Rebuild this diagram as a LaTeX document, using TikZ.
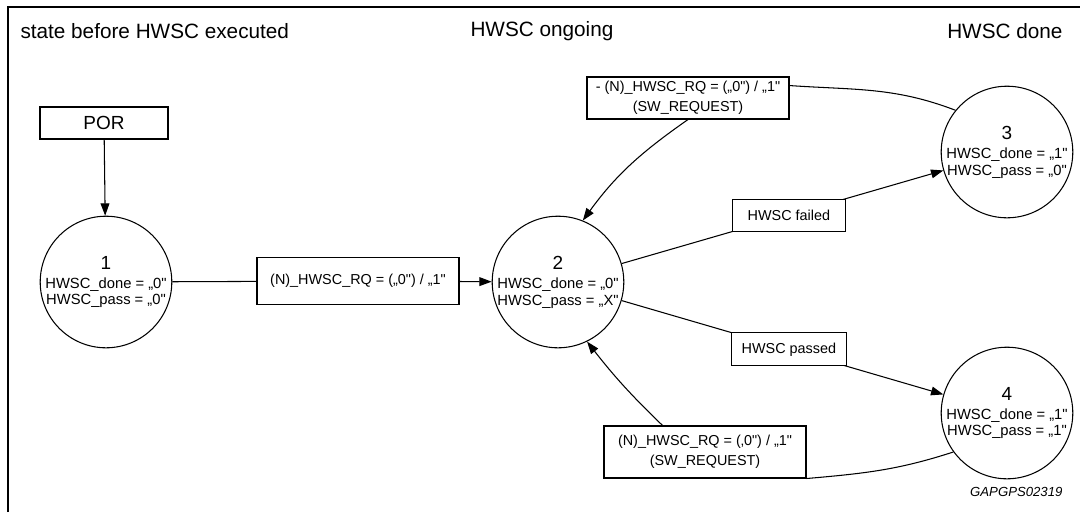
\documentclass[tikz,border=0pt]{standalone}
\usepackage{fontspec}
\setmainfont{Liberation Sans}
\usetikzlibrary{arrows.meta}
\newcommand{\closeq}{\textquotedbl}
\tikzset{
  state/.style={circle, draw, line width=0.6pt, minimum size=2.56cm, inner sep=0pt,
    align=center, font=\fontsize{8.4}{9.6}\selectfont},
  condbox/.style={draw, fill=white, line width=0.6pt, inner sep=1pt, align=center,
    font=\fontsize{8.2}{11.3}\selectfont},
  header/.style={font=\fontsize{11.8}{13}\selectfont, inner sep=0pt},
}
\begin{document}
\begin{tikzpicture}[x=0.02cm, y=0.02cm, line width=0.6pt, >={Triangle[length=7pt,width=5pt]}]
    \useasboundingbox (0,0) rectangle (1080,-512);
    \draw[line width=1.4pt] (8,-512) -- (8,-7) -- (1080,-7);
    % column headers
    \node[header, anchor=west] (hbefore) at (20,-31) {state before HWSC executed};
    \node[header, anchor=west] (hongoing) at (470,-31) {HWSC ongoing};
    \node[header, anchor=east] (hdone) at (1063,-31) {HWSC done};
    % states
    \node[condbox, minimum width=2.56cm, minimum height=0.64cm, font=\fontsize{10.8}{12}\selectfont] (por) at (104,-123) {POR};
    \node[state] (s1) at (106,-282) {{\fontsize{10.8}{12}\selectfont 1}\\[1.2pt]HWSC\_done = „0\closeq\\HWSC\_pass = „0\closeq};
    \node[state] (s2) at (558,-282) {{\fontsize{10.8}{12}\selectfont 2}\\[1.2pt]HWSC\_done = „0\closeq\\HWSC\_pass = „X\closeq};
    \node[state] (s3) at (1007,-152) {{\fontsize{10.8}{12}\selectfont 3}\\[1.2pt]HWSC\_done = „1\closeq\\HWSC\_pass = „0\closeq};
    \node[state] (s4) at (1007,-413) {{\fontsize{10.8}{12}\selectfont 4}\\[1.2pt]HWSC\_done = „1\closeq\\HWSC\_pass = „1\closeq};
    % request boxes
    \node[condbox, minimum width=4.04cm, minimum height=0.94cm] (rq1) at (358,-281) {(N)\_HWSC\_RQ = („0\closeq) / „1\closeq};
    \node[condbox, minimum width=4.04cm, minimum height=0.84cm] (rq2) at (688,-98) {- (N)\_HWSC\_RQ = („0\closeq) / „1\closeq\\(SW\_REQUEST)};
    \node[condbox, minimum width=4.04cm, minimum height=1.04cm] (rq3) at (705,-452) {(N)\_HWSC\_RQ = (‚0\closeq) / „1\closeq\\(SW\_REQUEST)};
    % transitions
    \draw[->] (por) -- (s1);
    \draw (s1) -- (rq1);
    \draw[->] (rq1) -- (s2);
    \draw[->] (s2) -- node[condbox, pos=0.52, minimum width=2.26cm, minimum height=0.64cm] (fail) {HWSC failed} (s3);
    \draw[->] (s2) -- node[condbox, pos=0.52, minimum width=2.3cm, minimum height=0.66cm] (pass) {HWSC passed} (s4);
    \draw (s3.141) to[out=159, in=-4] (rq2.7);
    \draw[->] (rq2.south) to[out=215, in=54] (s2.68);
    \draw (s4.216) to[out=198, in=5] (rq3.south east);
    \draw[->] (rq3.148) to[out=136, in=-52] (s2.-64);
    \node[anchor=east, inner sep=0pt, font=\fontsize{7.5}{9}\selectfont\itshape] (figid) at (1063,-492) {GAPGPS02319};
\end{tikzpicture}
\end{document}
